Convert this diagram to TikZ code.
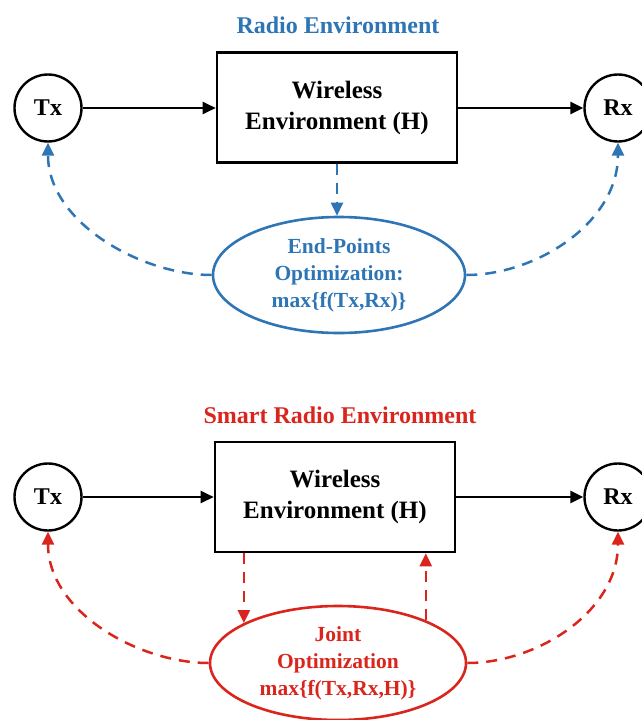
\documentclass[tikz,border=0pt]{standalone}
\usepackage{fontspec}
\setmainfont{Liberation Serif}
\usetikzlibrary{arrows.meta,shapes.geometric}
\definecolor{reblue}{RGB}{46,117,182}
\definecolor{rered}{RGB}{218,37,29}
\begin{document}
\begin{tikzpicture}[x=1pt,y=-1pt,
  arrowtip/.style={-{Triangle[length=13pt,width=12pt]}},
  endpt/.style={circle,draw,line width=2.4pt,minimum size=67pt,inner sep=0pt,font=\fontsize{24}{28}\selectfont\bfseries},
  chanbox/.style={draw,line width=2.6pt,minimum width=240pt,minimum height=110pt,align=center,font=\fontsize{25}{31}\selectfont\bfseries},
  optell/.style={ellipse,draw,line width=2.6pt,inner sep=0pt,align=center,font=\fontsize{21.5}{27}\selectfont\bfseries},
  headline/.style={font=\fontsize{24}{28}\selectfont\bfseries},
  mainflow/.style={line width=2.5pt,arrowtip},
  fb/.style={line width=2.5pt,dash pattern=on 11pt off 8pt,arrowtip}]
\useasboundingbox (0,0) rectangle (641,720);
% ---------- top: Radio Environment ----------
\node[headline,text=reblue] (t1) at (338,25) {Radio Environment};
\node[endpt] (tx1) at (48,108) {Tx};
\node[endpt] (rx1) at (618,108) {Rx};
\node[chanbox] (h1) at (337,107.5) {Wireless\\Environment (H)};
\node[optell,draw=reblue,text=reblue,minimum width=252pt,minimum height=116pt] (e1) at (339,275) {End-Points\\Optimization:\\max\{f(Tx,Rx)\}};
\draw[mainflow] (tx1.east) -- (tx1.east -| h1.west);
\draw[mainflow] (h1.east |- rx1.west) -- (rx1.west);
\draw[fb,reblue] (h1.south) -- (h1.south |- e1.north);
\draw[fb,reblue] (e1.west) .. controls +(-70,0) and +(0,80) .. (tx1.south);
\draw[fb,reblue] (e1.east) .. controls +(70,0) and +(0,80) .. (rx1.south);
% ---------- bottom: Smart Radio Environment ----------
\node[headline,text=rered] (t2) at (340,415) {Smart Radio Environment};
\node[endpt] (tx2) at (48,497) {Tx};
\node[endpt] (rx2) at (618,497) {Rx};
\node[chanbox] (h2) at (335,497) {Wireless\\Environment (H)};
\node[optell,draw=rered,text=rered,minimum width=256pt,minimum height=114pt] (e2) at (338,663) {Joint\\Optimization\\max\{f(Tx,Rx,H)\}};
\draw[mainflow] (tx2.east) -- (tx2.east -| h2.west);
\draw[mainflow] (h2.east |- rx2.west) -- (rx2.west);
\draw[fb,rered] (h2.south -| e2.157) -- (e2.157);
\draw[fb,rered] (e2.26) -- (h2.south -| e2.26);
\draw[fb,rered] (e2.west) .. controls +(-70,0) and +(0,80) .. (tx2.south);
\draw[fb,rered] (e2.east) .. controls +(70,0) and +(0,80) .. (rx2.south);
\end{tikzpicture}
\end{document}
